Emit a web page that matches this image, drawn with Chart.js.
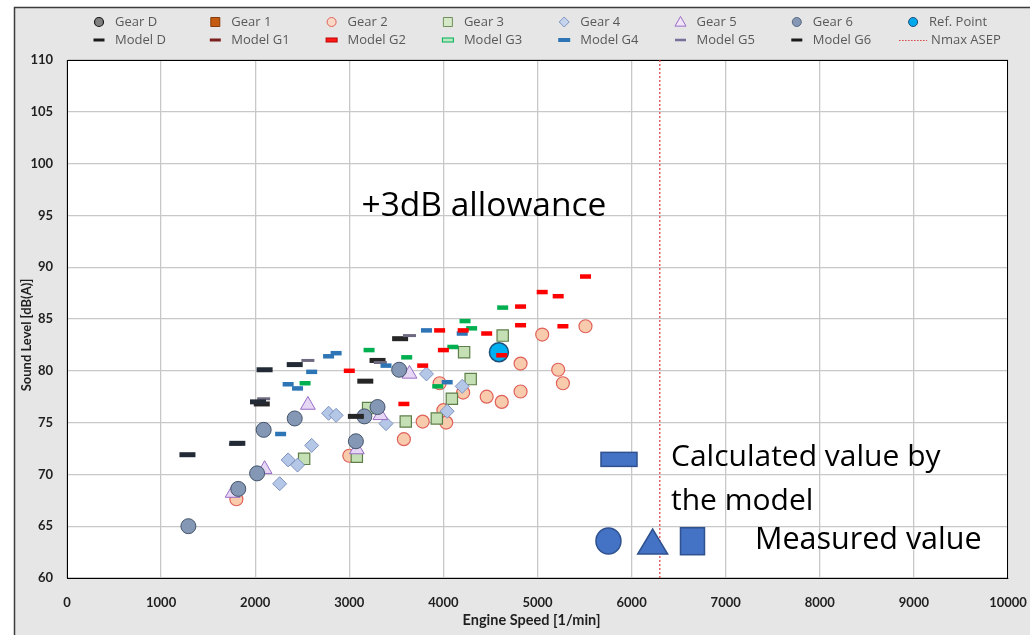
<!DOCTYPE html>
<html>
<head>
<meta charset="utf-8">
<script src="https://cdn.jsdelivr.net/npm/chart.js@4.4.1/dist/chart.umd.min.js"></script>
<style>
  html, body { margin: 0; padding: 0; background: #fff; overflow: hidden; }
  #wrap { position: relative; width: 1030px; height: 635px; }
</style>
</head>
<body>
<div id="wrap"><canvas id="c" width="1030" height="635"></canvas></div>
<script>
// ---- Measured sound levels per gear [engine speed 1/min, dB(A)] ----
const gearDSpeed = [];
const gearDLevel = [];
const gear1Speed = [];
const gear1Level = [];
const gear2Speed = [1800, 3000, 3580, 3780, 3960, 4000, 4030, 4210, 4460, 4620, 4820, 4820, 5050, 5220, 5270, 5510];
const gear2Level = [67.6, 71.8, 73.4, 75.1, 78.8, 76.2, 75.0, 77.9, 77.5, 77.0, 78.0, 80.7, 83.5, 80.1, 78.8, 84.3];
const gear3Speed = [2520, 3080, 3200, 3600, 3930, 4090, 4220, 4290, 4630];
const gear3Level = [71.5, 71.7, 76.4, 75.1, 75.4, 77.3, 81.8, 79.2, 83.4];
const gear4Speed = [2260, 2350, 2450, 2600, 2780, 2860, 3390, 3820, 4040, 4200];
const gear4Level = [69.1, 71.4, 70.9, 72.8, 75.9, 75.7, 74.9, 79.7, 76.1, 78.5];
const gear5Speed = [1760, 2100, 2560, 3080, 3330, 3640];
const gear5Level = [68.2, 70.5, 76.7, 72.4, 75.7, 79.7];
const gear6Speed = [1290, 1820, 2020, 2090, 2420, 3070, 3160, 3300, 3530];
const gear6Level = [65.0, 68.6, 70.1, 74.3, 75.4, 73.2, 75.6, 76.5, 80.1];
const refSpeed = [4590];
const refLevel = [81.8];

// ---- Model predictions per gear ----
const modelDSpeed = [1280, 1810, 2030, 2100, 2420];
const modelDLevel = [71.9, 73.0, 77.0, 80.1, 80.6];
const modelG1Speed = [];
const modelG1Level = [];
const modelG2Speed = [3000, 3580, 3780, 3960, 4000, 4210, 4460, 4620, 4820, 4820, 5050, 5220, 5270, 5510];
const modelG2Level = [80.0, 76.8, 80.5, 83.9, 82.0, 83.9, 83.6, 81.5, 86.2, 84.4, 87.6, 87.2, 84.3, 89.1];
const modelG3Speed = [2530, 3210, 3610, 3940, 4100, 4230, 4300, 4630];
const modelG3Level = [78.8, 82.0, 81.3, 78.5, 82.3, 84.8, 84.1, 86.1];
const modelG4Speed = [2270, 2350, 2450, 2600, 2780, 2860, 3390, 3820, 4040, 4200];
const modelG4Level = [73.9, 78.7, 78.3, 79.9, 81.4, 81.7, 80.5, 83.9, 78.9, 83.6];
const modelG5Speed = [1790, 2090, 2560, 3330, 3640];
const modelG5Level = [72.9, 77.3, 81.0, 80.8, 83.4];
const modelG6Speed = [2070, 3070, 3170, 3300, 3540];
const modelG6Level = [76.8, 75.6, 79.0, 81.0, 83.1];

// ---- Maximum engine speed for ASEP ----
const nmaxSpeed = [6300, 6300];
const nmaxLevel = [60, 110];

// ---- Axis tick labels and titles ----
const xTickLabels = ['0', '1000', '2000', '3000', '4000', '5000', '6000', '7000', '8000', '9000', '10000'];
const yTickLabels = ['60', '65', '70', '75', '80', '85', '90', '95', '100', '105', '110'];
const xTitle = 'Engine Speed [1/min]';
const yTitle = 'Sound Level [dB(A)]';

const pts = (xs, ys) => xs.map((x, i) => ({ x, y: ys[i] }));

function gearSet(label, xs, ys, style) {
  return Object.assign({
    type: 'scatter', label, data: pts(xs, ys),
    pointBorderWidth: 1, showLine: false
  }, style);
}
function modelSet(label, xs, ys, color, len, thick, icon) {
  return {
    type: 'scatter', label, data: pts(xs, ys), showLine: false,
    pointStyle: 'line', pointRadius: len, pointBorderWidth: thick,
    pointBorderColor: color, pointBackgroundColor: color, borderColor: color,
    order: 0, icon
  };
}

const datasets = [
  gearSet('Gear D', gearDSpeed, gearDLevel, { pointStyle: 'circle', pointRadius: 7, pointBackgroundColor: '#7f7f7f', pointBorderColor: '#1a1a1a', order: 7,
    icon: { shape: 'circle', r: 4.5, fill: '#7f7f7f', stroke: '#1a1a1a', lw: 1.2 } }),
  gearSet('Gear 1', gear1Speed, gear1Level, { pointStyle: 'rect', pointRadius: 8, pointBackgroundColor: '#c55a11', pointBorderColor: '#843c0c', order: 7,
    icon: { shape: 'rect', r: 4.5, fill: '#c55a11', stroke: '#843c0c', lw: 1 } }),
  gearSet('Gear 2', gear2Speed, gear2Level, { pointStyle: 'circle', pointRadius: 6.5, pointBackgroundColor: '#f8cbad', pointBorderColor: '#e0605a', pointBorderWidth: 1.2, order: 6,
    icon: { shape: 'circle', r: 4.5, fill: '#fbd9c6', stroke: '#e0605a', lw: 1 } }),
  gearSet('Gear 3', gear3Speed, gear3Level, { pointStyle: 'rect', pointRadius: 8, pointBackgroundColor: '#c5e0b4', pointBorderColor: '#5f7f4a', pointBorderWidth: 1.2, order: 5,
    icon: { shape: 'rect', r: 4.5, fill: '#d5e8c8', stroke: '#6f8f5a', lw: 1 } }),
  gearSet('Gear 4', gear4Speed, gear4Level, { pointStyle: 'rectRot', pointRadius: 7, pointBackgroundColor: '#b4c7e7', pointBorderColor: '#7f93c0', order: 4,
    icon: { shape: 'rectRot', r: 5, fill: '#c5d3ec', stroke: '#7f93c0', lw: 1 } }),
  gearSet('Gear 5', gear5Speed, gear5Level, { pointStyle: 'triangle', pointRadius: 8.5, pointBackgroundColor: '#e6d8f4', pointBorderColor: '#9a6cc6', order: 3,
    icon: { shape: 'triangle', r: 5.5, fill: '#f0e6f8', stroke: '#9a6cc6', lw: 1 } }),
  gearSet('Gear 6', gear6Speed, gear6Level, { pointStyle: 'circle', pointRadius: 7.5, pointBackgroundColor: '#8497b5', pointBorderColor: '#44546a', order: 2,
    icon: { shape: 'circle', r: 4.5, fill: '#8497b5', stroke: '#5a6a80', lw: 1 } }),
  gearSet('Ref. Point', refSpeed, refLevel, { pointStyle: 'circle', pointRadius: 9.5, pointBackgroundColor: '#00b0f0', pointBorderColor: '#1f4e79', pointBorderWidth: 1.5, order: 1,
    icon: { shape: 'circle', r: 4.5, fill: '#00a8ec', stroke: '#1f4e79', lw: 1 } }),
  modelSet('Model D', modelDSpeed, modelDLevel, '#222a35', 8, 5, { shape: 'dash', w: 11, h: 3, fill: '#1a1a1a' }),
  modelSet('Model G1', modelG1Speed, modelG1Level, '#7b1f1f', 6, 4, { shape: 'dash', w: 11, h: 3, fill: '#7b1f1f' }),
  modelSet('Model G2', modelG2Speed, modelG2Level, '#ff0000', 5.5, 4.5, { shape: 'dash', w: 11, h: 4, fill: '#ff1a1a', stroke: '#c00000' }),
  modelSet('Model G3', modelG3Speed, modelG3Level, '#00b050', 5.5, 4.5, { shape: 'dash', w: 11, h: 4, fill: '#b8e8c8', stroke: '#00b050' }),
  modelSet('Model G4', modelG4Speed, modelG4Level, '#2e75b6', 5.5, 4.5, { shape: 'dash', w: 12, h: 4, fill: '#2e75b6' }),
  modelSet('Model G5', modelG5Speed, modelG5Level, '#6f6a80', 6.5, 3, { shape: 'dash', w: 11, h: 2.5, fill: '#7a6f9a' }),
  modelSet('Model G6', modelG6Speed, modelG6Level, '#262626', 8, 5, { shape: 'dash', w: 11, h: 3, fill: '#1a1a1a' }),
  {
    type: 'line', label: 'Nmax ASEP', data: pts(nmaxSpeed, nmaxLevel),
    borderColor: '#e03c3c', borderWidth: 1.2, borderDash: [2, 2], pointRadius: 0,
    fill: false, order: 8, icon: { shape: 'dots', w: 28, color: '#d84040' }
  }
];

// Text and key shapes placed in value coordinates
const noteAllowance = { text: '+3dB allowance', speed: 4431, level: 94.94, size: 33.5 };
const noteCalc = { lines: ['Calculated value by', 'the model'], speed: 6419, levels: [70.81, 66.56], size: 30 };
const noteMeas = { text: 'Measured value', speed: 7311, level: 62.8, size: 30.5 };
const keyDash = { speed: 5866, level: 71.45, w: 36, h: 14 };
const keyCircle = { speed: 5754, level: 63.57, rx: 12.5, ry: 13 };
const keyTriangle = { speed: 6224, level: 63.52, w: 30, h: 25 };
const keySquare = { speed: 6647, level: 63.55, w: 24, h: 27 };

function shapePath(ctx, shape, x, y, r) {
  ctx.beginPath();
  if (shape === 'circle') ctx.arc(x, y, r, 0, Math.PI * 2);
  else if (shape === 'rect') ctx.rect(x - r, y - r, 2 * r, 2 * r);
  else if (shape === 'rectRot') { ctx.moveTo(x, y - r); ctx.lineTo(x + r, y); ctx.lineTo(x, y + r); ctx.lineTo(x - r, y); ctx.closePath(); }
  else if (shape === 'triangle') { ctx.moveTo(x, y - r); ctx.lineTo(x + r, y + r * 0.75); ctx.lineTo(x - r, y + r * 0.75); ctx.closePath(); }
}

const framePlugin = {
  id: 'frame',
  beforeDraw(chart) {
    const { ctx, width, height, chartArea: a } = chart;
    ctx.save();
    ctx.fillStyle = '#ffffff';
    ctx.fillRect(0, 0, width, height);
    ctx.fillStyle = '#e6e6e6';
    ctx.fillRect(14, 7, width - 14, height - 7);
    ctx.strokeStyle = '#3c3c3c';
    ctx.lineWidth = 1.5;
    ctx.beginPath();
    ctx.moveTo(14.5, height);
    ctx.lineTo(14.5, 7.5);
    ctx.lineTo(width, 7.5);
    ctx.stroke();
    ctx.fillStyle = '#ffffff';
    ctx.fillRect(a.left, a.top, a.right - a.left, a.bottom - a.top);
    ctx.restore();
  },
  beforeDatasetsDraw(chart) {
    const { ctx, chartArea: a } = chart;
    ctx.save();
    ctx.strokeStyle = '#000';
    ctx.lineWidth = 1;
    ctx.strokeRect(a.left + 0.5, a.top + 0.5, a.right - a.left - 1, a.bottom - a.top);
    ctx.restore();
  },
  afterDraw(chart) {
    // axis titles, set slightly off-centre as in the original workbook layout
    const { ctx, chartArea: a } = chart;
    ctx.save();
    ctx.fillStyle = '#1f1f1f';
    ctx.textAlign = 'center';
    ctx.textBaseline = 'middle';
    ctx.font = 'bold 14.5px Lato';
    ctx.fillText(xTitle, (a.left + a.right) / 2 - 6, a.bottom + 42);
    ctx.translate(27, (a.top + a.bottom) / 2 + 16);
    ctx.rotate(-Math.PI / 2);
    ctx.font = 'bold 13px Lato';
    ctx.fillText(yTitle, 0, 0);
    ctx.restore();
  }
};

const legendPlugin = {
  id: 'gridLegend',
  afterDraw(chart) {
    const { ctx } = chart;
    ctx.save();
    ctx.font = '13px "Open Sans"';
    ctx.textBaseline = 'middle';
    ctx.textAlign = 'left';
    chart.data.datasets.forEach((ds, i) => {
      const col = i % 8, row = Math.floor(i / 8);
      const x = 99 + col * 116.3, y = 22 + row * 18;
      const ic = ds.icon;
      if (ic.shape === 'dash') {
        ctx.fillStyle = ic.fill;
        ctx.fillRect(x - ic.w / 2, y - ic.h / 2, ic.w, ic.h);
        if (ic.stroke) {
          ctx.strokeStyle = ic.stroke; ctx.lineWidth = 1;
          ctx.strokeRect(x - ic.w / 2, y - ic.h / 2, ic.w, ic.h);
        }
      } else if (ic.shape === 'dots') {
        ctx.strokeStyle = ic.color; ctx.lineWidth = 1;
        ctx.setLineDash([1.5, 1.5]);
        ctx.beginPath(); ctx.moveTo(x - 14, y + 0.5); ctx.lineTo(x + 14, y + 0.5); ctx.stroke();
        ctx.setLineDash([]);
      } else {
        ctx.fillStyle = ic.fill; ctx.strokeStyle = ic.stroke; ctx.lineWidth = ic.lw;
        shapePath(ctx, ic.shape, x, y, ic.r);
        ctx.fill(); ctx.stroke();
      }
      ctx.fillStyle = '#595959';
      ctx.fillText(ds.label, x + (ic.shape === 'dots' ? 18 : 16), y + 0.5);
    });
    ctx.restore();
  }
};

const notesPlugin = {
  id: 'notes',
  afterDraw(chart) {
    const { ctx } = chart;
    const xs = chart.scales.x, ys = chart.scales.y;
    const px = v => xs.getPixelForValue(v), py = v => ys.getPixelForValue(v);
    ctx.save();
    ctx.fillStyle = '#000';
    ctx.textBaseline = 'alphabetic';
    ctx.font = noteAllowance.size + 'px "Open Sans"';
    ctx.textAlign = 'center';
    ctx.fillText(noteAllowance.text, px(noteAllowance.speed), py(noteAllowance.level));
    ctx.textAlign = 'left';
    ctx.font = noteCalc.size + 'px "Open Sans"';
    noteCalc.lines.forEach((t, i) => ctx.fillText(t, px(noteCalc.speed), py(noteCalc.levels[i])));
    ctx.font = noteMeas.size + 'px "Open Sans"';
    ctx.fillText(noteMeas.text, px(noteMeas.speed), py(noteMeas.level));

    ctx.fillStyle = '#4472c4';
    ctx.strokeStyle = '#2f528f';
    ctx.lineWidth = 1.5;
    let cx = px(keyDash.speed), cy = py(keyDash.level);
    ctx.fillRect(cx - keyDash.w / 2, cy - keyDash.h / 2, keyDash.w, keyDash.h);
    ctx.strokeRect(cx - keyDash.w / 2, cy - keyDash.h / 2, keyDash.w, keyDash.h);
    cx = px(keyCircle.speed); cy = py(keyCircle.level);
    ctx.beginPath(); ctx.ellipse(cx, cy, keyCircle.rx, keyCircle.ry, 0, 0, Math.PI * 2); ctx.fill(); ctx.stroke();
    cx = px(keyTriangle.speed); cy = py(keyTriangle.level);
    ctx.beginPath();
    ctx.moveTo(cx, cy - keyTriangle.h / 2);
    ctx.lineTo(cx + keyTriangle.w / 2, cy + keyTriangle.h / 2);
    ctx.lineTo(cx - keyTriangle.w / 2, cy + keyTriangle.h / 2);
    ctx.closePath(); ctx.fill(); ctx.stroke();
    cx = px(keySquare.speed); cy = py(keySquare.level);
    ctx.fillRect(cx - keySquare.w / 2, cy - keySquare.h / 2, keySquare.w, keySquare.h);
    ctx.strokeRect(cx - keySquare.w / 2, cy - keySquare.h / 2, keySquare.w, keySquare.h);
    ctx.restore();
  }
};

const tickFont = { family: 'Lato', weight: 'bold', size: 13 };

new Chart(document.getElementById('c'), {
  type: 'scatter',
  data: { datasets },
  plugins: [framePlugin, legendPlugin, notesPlugin],
  options: {
    responsive: false,
    devicePixelRatio: 1,
    animation: false,
    events: [],
    layout: { padding: { left: 14, right: 22, top: 60, bottom: 0 } },
    plugins: { legend: { display: false }, tooltip: { enabled: false } },
    scales: {
      x: {
        type: 'linear', min: 0, max: 10000,
        afterFit(s) { s.height = 57; s.paddingLeft = 0; s.paddingRight = 0; },
        ticks: { stepSize: 1000, padding: 17, maxRotation: 0, autoSkip: false, color: '#1f1f1f', font: tickFont,
          callback: (v, i) => xTickLabels[i] },
        grid: { color: '#c8c8c8', lineWidth: 1.3, drawTicks: false },
        border: { display: true, color: '#000', width: 1 },
        title: { display: false }
      },
      y: {
        type: 'linear', min: 60, max: 110,
        afterFit(s) { s.width = 53; s.paddingTop = 0; s.paddingBottom = 0; },
        ticks: { stepSize: 5, padding: 14, color: '#1f1f1f', font: tickFont,
          callback: (v, i) => yTickLabels[i] },
        grid: { color: '#c8c8c8', lineWidth: 1.3, drawTicks: false },
        border: { display: true, color: '#000', width: 1 },
        title: { display: false }
      }
    }
  }
});
</script>
</body>
</html>
